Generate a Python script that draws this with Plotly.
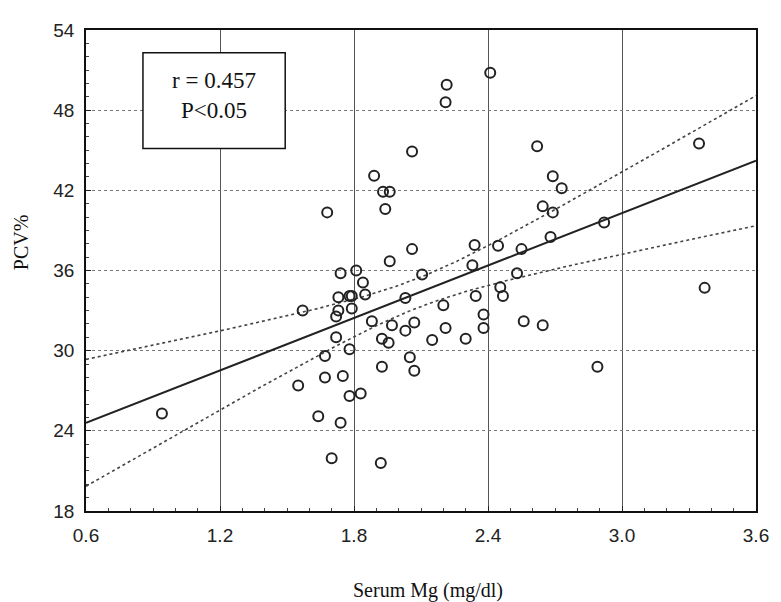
import numpy as np
import plotly.graph_objects as go

# Scatter data
serum_mg = [0.94, 1.55, 1.57, 1.64, 1.67, 1.67, 1.68, 1.70, 1.72, 1.72,
            1.73, 1.73, 1.74, 1.75, 1.74, 1.78, 1.79, 1.79, 1.78, 1.78,
            1.81, 1.83, 1.84, 1.85, 1.88, 1.89, 1.92, 1.925, 1.925, 1.93,
            1.96, 1.94, 1.955, 1.96, 1.97, 2.03, 2.03, 2.05, 2.06, 2.06,
            2.07, 2.07, 2.105, 2.15, 2.20, 2.21, 2.215, 2.21, 2.30, 2.33,
            2.34, 2.345, 2.38, 2.38, 2.41, 2.445, 2.455, 2.467, 2.53, 2.55,
            2.56, 2.62, 2.645, 2.645, 2.68, 2.69, 2.69, 2.73, 2.89, 2.92,
            3.345, 3.37]
pcv = [25.3, 27.4, 33.0, 25.1, 29.6, 28.0, 40.35, 21.95, 32.55, 31.0,
       34.0, 33.0, 35.8, 28.1, 24.6, 34.1, 34.1, 33.15, 30.1, 26.6,
       36.0, 26.8, 35.1, 34.2, 32.2, 43.1, 21.6, 30.9, 28.8, 41.9,
       41.9, 40.6, 30.6, 36.7, 31.9, 33.95, 31.5, 29.5, 44.9, 37.6,
       32.1, 28.5, 35.7, 30.8, 33.4, 31.7, 49.9, 48.6, 30.9, 36.4,
       37.9, 34.1, 32.7, 31.7, 50.8, 37.85, 34.75, 34.1, 35.8, 37.6,
       32.2, 45.3, 40.8, 31.9, 38.5, 40.35, 43.06, 42.15, 28.8, 39.6,
       45.5, 34.7]

# Regression line and confidence band parameters
fit_x0 = 0.6
fit_intercept = 24.6   # value of the fitted line at x = 0.6
fit_slope = 6.54
band_min_half = 1.1    # half-width of confidence band at its narrowest
band_center = 2.08
band_spread = 3.12

x_ticks = [0.6, 1.2, 1.8, 2.4, 3.0, 3.6]
y_ticks = [18, 24, 30, 36, 42, 48, 54]
stats_text = "r = 0.457<br>P&lt;0.05"

xs = np.linspace(0.6, 3.6, 200)
fit = fit_intercept + fit_slope * (xs - fit_x0)
half = np.sqrt(band_min_half**2 + (band_spread * (xs - band_center))**2)

fig = go.Figure()
fig.add_trace(go.Scatter(x=xs, y=fit + half, mode="lines",
                         line=dict(color="#444", width=1.6, dash="dot"),
                         hoverinfo="skip"))
fig.add_trace(go.Scatter(x=xs, y=fit - half, mode="lines",
                         line=dict(color="#444", width=1.6, dash="dot"),
                         hoverinfo="skip"))
fig.add_trace(go.Scatter(x=xs, y=fit, mode="lines",
                         line=dict(color="#222", width=2)))
fig.add_trace(go.Scatter(x=serum_mg, y=pcv, mode="markers",
                         marker=dict(symbol="circle-open", size=10,
                                     color="#222", line=dict(width=2))))

axis_font = dict(family="Liberation Sans, Arial, sans-serif", size=19, color="#222")
serif = "Liberation Serif, Times New Roman, serif"

# The page body adds an 8 px offset; the figure is sized to compensate.
fig.update_layout(
    width=773, height=594,
    margin=dict(l=78, r=12, t=14, b=91),
    paper_bgcolor="white", plot_bgcolor="white",
    showlegend=False,
    xaxis=dict(range=[0.6, 3.6], tickvals=x_ticks,
               ticktext=[f"{v:.1f}" for v in x_ticks],
               tickfont=axis_font, ticks="inside", ticklen=5,
               tickcolor="#222", ticklabelstandoff=6,
               showline=True, mirror=True, linecolor="#111", linewidth=1.5,
               showgrid=True, gridcolor="#555", gridwidth=1,
               minor=dict(dtick=0.1, ticks="inside", ticklen=3,
                          tickcolor="#444", showgrid=False),
               zeroline=False),
    yaxis=dict(range=[18, 54], tickvals=y_ticks,
               tickfont=axis_font, ticks="inside", ticklen=5,
               tickcolor="#222", ticklabelstandoff=6,
               showline=True, mirror=True, linecolor="#111", linewidth=1.5,
               showgrid=True, gridcolor="#777", gridwidth=1.2, griddash="dot",
               minor=dict(dtick=1, ticks="inside", ticklen=3,
                          tickcolor="#444", showgrid=False),
               zeroline=False),
    shapes=[dict(type="rect", xref="x", yref="y",
                 x0=0.855, x1=1.492, y0=45.13, y1=52.3,
                 line=dict(color="#111", width=1.5),
                 fillcolor="white", layer="above")],
    annotations=[
        dict(text=stats_text, x=1.173, y=49.1, xref="x", yref="y",
             showarrow=False, align="center",
             font=dict(family=serif, size=23, color="#111")),
        dict(text="Serum Mg (mg/dl)", x=0.51, y=-0.166, xref="paper",
             yref="paper", showarrow=False, yanchor="middle",
             font=dict(family=serif, size=20, color="#111")),
        dict(text="PCV%", x=-0.097, y=0.559, xref="paper", yref="paper",
             showarrow=False, textangle=-90, xanchor="center",
             yanchor="middle",
             font=dict(family=serif, size=20, color="#111")),
    ],
)

fig.write_html("out.html")
